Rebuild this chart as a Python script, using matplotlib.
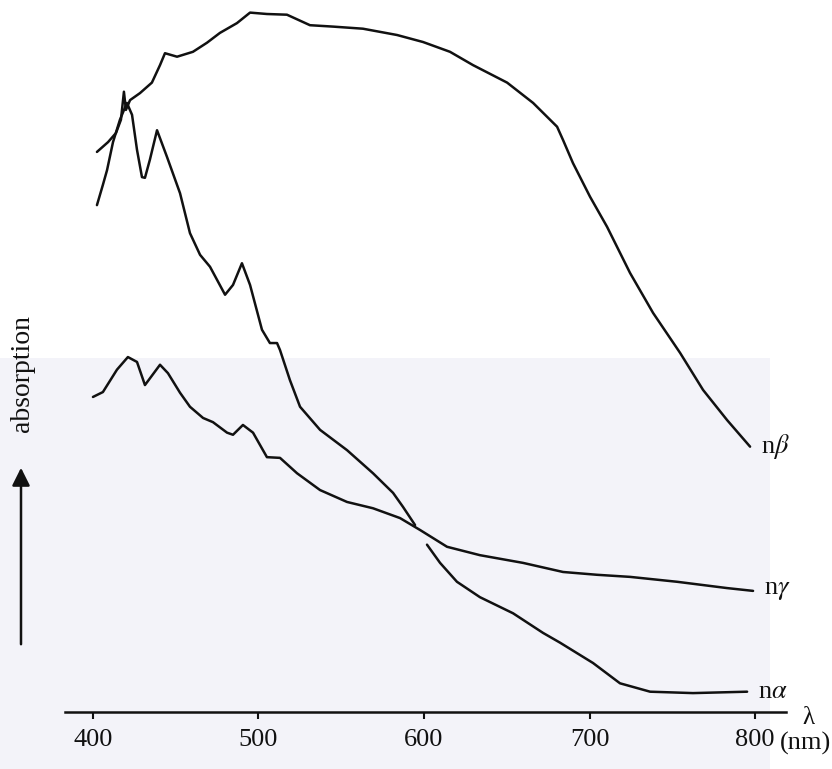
import matplotlib
matplotlib.use("Agg")
import matplotlib.pyplot as plt
from matplotlib.patches import Rectangle, FancyArrowPatch

plt.rcParams['font.family'] = ['Liberation Serif', 'DejaVu Serif']
plt.rcParams['mathtext.fontset'] = 'stix'

# ---- data (wavelength in nm, absorption in arbitrary units) ----
beta_wl = [402.4, 409.1, 413.9, 416.9, 418.7, 419.9, 422.4, 428.4, 435.6, 440.5,
           443.5, 450.8, 460.4, 468.9, 476.7, 487.0, 494.9, 505.1, 517.2, 531.1,
           545.0, 563.1, 583.7, 599.4, 615.7, 629.6, 650.2, 665.9, 680.4, 684.0,
           690.0, 700.3, 710.6, 724.5, 738.4, 754.7, 768.6, 783.1, 797.0]
beta_abs = [80.0, 81.4, 82.7, 84.6, 88.6, 86.0, 87.4, 88.4, 89.9, 92.4,
            94.1, 93.6, 94.3, 95.6, 97.0, 98.4, 99.9, 99.7, 99.6, 98.1,
            97.9, 97.6, 96.7, 95.7, 94.3, 92.4, 89.9, 87.0, 83.6, 81.7,
            78.4, 73.6, 69.3, 62.7, 57.0, 51.3, 46.0, 41.7, 37.9]

gamma_wl = [400.0, 406.0, 414.5, 421.1, 426.6, 431.4, 440.5, 445.3, 452.6, 458.6,
            466.5, 472.5, 481.0, 484.6, 490.6, 496.7, 505.1, 513.0, 523.3, 537.2,
            553.5, 569.2, 585.5, 597.6, 613.9, 633.8, 659.8, 684.0, 704.5, 724.5,
            752.9, 783.1, 798.8]
gamma_abs = [45.0, 45.7, 48.9, 50.7, 50.0, 46.7, 49.6, 48.4, 45.6, 43.6,
             42.0, 41.4, 39.9, 39.6, 41.0, 39.9, 36.4, 36.3, 34.1, 31.7,
             30.0, 29.1, 27.7, 26.0, 23.6, 22.4, 21.3, 20.0, 19.6, 19.3,
             18.6, 17.7, 17.3]

alpha1_wl = [402.4, 406.0, 408.5, 412.1, 416.3, 420.5, 423.6, 426.6, 429.6, 431.4,
             434.4, 438.7, 444.7, 452.6, 458.6, 464.7, 470.7, 479.8, 484.6, 490.0,
             494.9, 502.1, 506.9, 511.2, 513.0, 519.0, 525.1, 537.2, 553.5, 569.2,
             581.3, 587.3, 594.6]
alpha1_abs = [72.4, 75.3, 77.4, 81.4, 84.6, 87.0, 85.3, 80.3, 76.4, 76.3,
              78.9, 83.1, 79.3, 74.1, 68.4, 65.3, 63.6, 59.6, 61.0, 64.1,
              61.0, 54.6, 52.7, 52.7, 51.7, 47.4, 43.6, 40.3, 37.4, 34.1,
              31.3, 29.3, 26.7]

alpha2_wl = [601.8, 609.7, 619.9, 633.8, 653.8, 671.9, 682.2, 702.1, 718.4, 736.6,
             762.5, 795.2]
alpha2_abs = [23.9, 21.3, 18.6, 16.4, 14.1, 11.3, 9.9, 7.0, 4.1, 2.9,
              2.7, 2.9]

xticks = [400, 500, 600, 700, 800]
xtick_labels = ['400', '500', '600', '700', '800']
curve_labels = ['n$\\beta$', 'n$\\gamma$', 'n$\\alpha$']

# ---- figure ----
W, H = 832, 769
fig = plt.figure(figsize=(W / 100, H / 100), dpi=100)
fig.patch.set_facecolor('white')
# light scan shading in the lower part of the page
fig.patches.append(Rectangle((0, 0), 770 / W, (H - 358) / H, transform=fig.transFigure,
                             facecolor='#f3f3f9', edgecolor='none', zorder=-10))

ax = fig.add_axes([65 / W, (H - 712) / H, 721 / W, 712 / H])
ax.set_zorder(5)
ax.patch.set_visible(False)
ax.set_xlim(383.1, 818.7)
ax.set_ylim(0, 101.7)

lc = '#111111'
lw = 1.8
for xs, ys in [(beta_wl, beta_abs), (gamma_wl, gamma_abs),
               (alpha1_wl, alpha1_abs), (alpha2_wl, alpha2_abs)]:
    ax.plot(xs, ys, color=lc, lw=lw, solid_joinstyle='round', solid_capstyle='round')

for s in ['left', 'top', 'right']:
    ax.spines[s].set_visible(False)
ax.spines['bottom'].set_linewidth(1.8)
ax.spines['bottom'].set_color(lc)
ax.set_yticks([])
ax.set_xticks(xticks)
ax.set_xticklabels(xtick_labels)
ax.tick_params(axis='x', direction='out', length=5, width=1.5, color=lc,
               labelsize=19, pad=7, labelcolor=lc)

# curve labels
ends = [(beta_wl[-1], beta_abs[-1]), (gamma_wl[-1], gamma_abs[-1]), (alpha2_wl[-1], alpha2_abs[-1])]
for lab, (xe, ye) in zip(curve_labels, ends):
    ax.annotate(lab, xy=(xe, ye), xytext=(8, 0), textcoords='offset points',
                ha='left', va='center', fontsize=19, color=lc, annotation_clip=False)

# axis annotations
ax.text(832, -0.0169, 'λ', transform=ax.get_xaxis_transform(), ha='center', va='baseline',
        fontsize=18, color=lc)
ax.text(815, -0.0534, '(nm)', transform=ax.get_xaxis_transform(), ha='left', va='baseline',
        fontsize=19, color=lc)

# vertical "absorption" arrow
fig.add_artist(FancyArrowPatch(
    (21 / W, 1 - 647 / H), (21 / W, 1 - 465 / H), transform=fig.transFigure,
    arrowstyle='-|>,head_length=0.6,head_width=0.3', mutation_scale=18,
    color=lc, lw=1.8, zorder=6))
fig.text(22 / W, 1 - 374 / H, 'absorption', rotation=90, ha='center', va='center',
         fontsize=20, color=lc, zorder=6)

fig.savefig('out.png', dpi=100, facecolor='white')
